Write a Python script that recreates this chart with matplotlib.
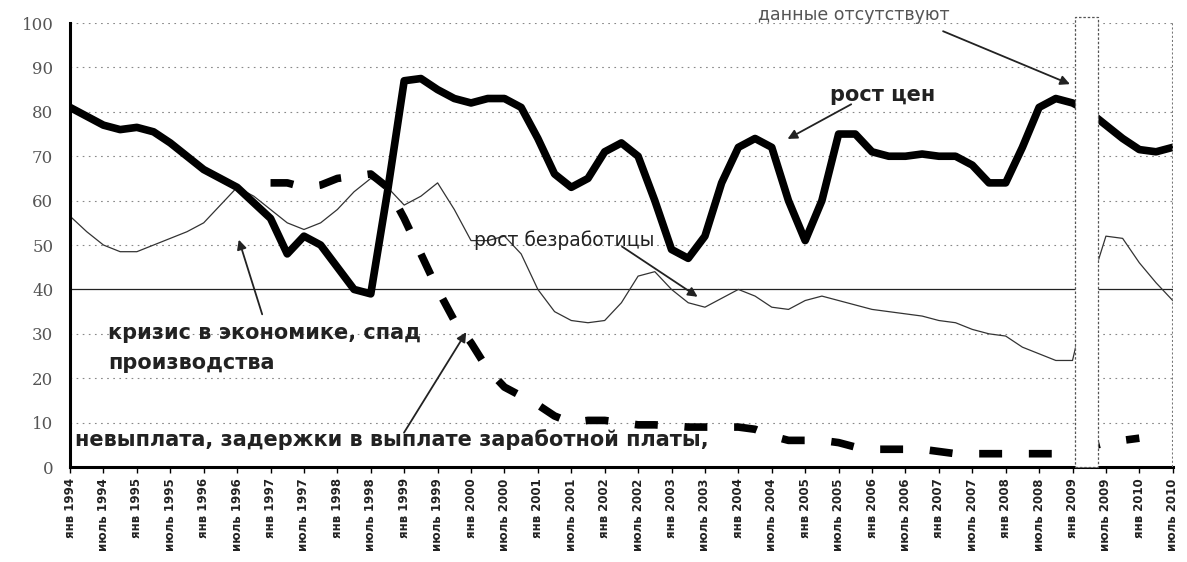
import numpy as np
from matplotlib import pyplot as plt
from matplotlib.patches import Rectangle

# half-step positions (two points per labelled category)
months = ["янв", "июль"]
years = [str(y) for y in range(1994, 2011)]
tick_labels = [f"{m} {y}" for y in years for m in months]

price = [81, 79, 77, 76, 76.5, 75.5, 73, 70, 67, 65, 63, 59.5, 56, 48, 52, 50, 45, 40, 39, 62,
         87, 87.5, 85, 83, 82, 83, 83, 81, 74, 66, 63, 65, 71, 73, 70, 60, 49, 47, 52, 64,
         72, 74, 72, 60, 51, 60, 75, 75, 71, 70, 70, 70.5, 70, 70, 68, 64, 64, 72, 81, 83,
         82, 80, 77, 74, 71.5, 71, 72]

unemployment = [56.5, 53, 50, 48.5, 48.5, 50, 51.5, 53, 55, 59, 63, 61, 58, 55, 53.5, 55, 58, 62, 65, 63,
                59, 61, 64, 58, 51, 51, 52, 48, 40, 35, 33, 32.5, 33, 37, 43, 44, 40, 37, 36, 38,
                40, 38.5, 36, 35.5, 37.5, 38.5, 37.5, 36.5, 35.5, 35, 34.5, 34, 33, 32.5, 31, 30, 29.5, 27, 25.5, 24,
                24, 40, 52, 51.5, 46, 41.5, 37.5]

nan = np.nan
wage_arrears = [nan, nan, nan, nan, nan, nan, nan, nan, nan, nan, nan, nan, 64, 64, 63, 63.5, 65, 65.5, 66, 63,
                56, 48, 40, 33, 28, 22, 18, 16, 14, 11.5, 10, 10.5, 10.5, 10, 9.5, 9.5, 9.3, 9, 9, 9,
                9, 8.5, 7, 6, 6, 6, 5.5, 4.5, 4, 4, 4, 4, 3.5, 3, 3, 3, 3, 3, 3, 3,
                3, 4.5, 5.5, 6, 6.5, nan, nan]

x = np.arange(len(price))

fig = plt.figure(figsize=(11.87, 5.62), dpi=100)
ax = fig.add_axes([0.059, 0.169, 0.929, 0.79])

ax.set_xlim(0, 66)
ax.set_ylim(0, 100)

# grid
for v in range(10, 101, 10):
    if v == 40:
        ax.axhline(v, color="#222222", lw=0.9, zorder=1)
    else:
        ax.axhline(v, color="#888888", lw=0.8, ls=(0, (1.5, 4)), zorder=1)

ax.plot(x, unemployment, color="#333333", lw=0.9, zorder=2)
ax.plot(x, price, color="black", lw=5.5, solid_capstyle="round", solid_joinstyle="round", zorder=3)
ax.plot(x, wage_arrears, color="black", lw=5.5, ls=(0, (3, 3.5)), zorder=3)

# "no data" band
ax.add_patch(Rectangle((60.15, 0), 1.35, 101.3, facecolor="white", edgecolor="#555555",
                       lw=0.9, ls=(0, (2, 1.5)), clip_on=False, zorder=5))
ax.axvline(66, color="#777777", lw=1.5, ls=(0, (1, 1)), zorder=5)

# axes styling
ax.spines["top"].set_visible(False)
ax.spines["right"].set_visible(False)
ax.spines["left"].set_linewidth(2.2)
ax.spines["bottom"].set_linewidth(2.2)

ax.set_yticks(range(0, 101, 10))
ax.set_yticklabels([str(v) for v in range(0, 101, 10)], family="DejaVu Serif",
                   fontsize=12, color="#555555")
ax.tick_params(axis="y", length=0, pad=12)

ax.set_xticks(range(0, 67, 2))
ax.set_xticklabels(tick_labels, rotation=90, fontsize=8.5, fontweight="bold", color="#222222")
ax.tick_params(axis="x", length=4, width=1, pad=4)

# annotations
arrow = dict(arrowstyle="-|>", color="#222222", lw=1.3, mutation_scale=14)
note_font = dict(fontsize=15, fontweight="bold", color="#222222", va="center", zorder=6)

ax.text(2.3, 30.2, "кризис в экономике, спад", **note_font)
ax.text(2.3, 23.4, "производства", **note_font)
ax.annotate("", xy=(10.05, 51.8), xytext=(11.55, 33.8), arrowprops=arrow, zorder=6)

ax.text(0.3, 6.1, "невыплата, задержки в выплате заработной платы,", **note_font)
ax.annotate("", xy=(23.8, 30.9), xytext=(19.9, 7.2), arrowprops=arrow, zorder=6)

ax.text(24.2, 51, "рост безработицы", fontsize=13.5, color="#222222", va="center", zorder=6)
ax.annotate("", xy=(37.7, 38), xytext=(32.9, 50), arrowprops=arrow, zorder=6)

ax.text(45.5, 83.8, "рост цен", **note_font)
ax.annotate("", xy=(42.8, 73.6), xytext=(46.9, 82), arrowprops=arrow, zorder=6)

ax.text(41.2, 101.8, "данные отсутствуют", fontsize=12.5, color="#555555", va="center",
        clip_on=False, zorder=6)
ax.annotate("", xy=(60.0, 86), xytext=(52.1, 98.4), arrowprops=arrow,
            annotation_clip=False, zorder=6)

fig.savefig("out.png", dpi=100)
